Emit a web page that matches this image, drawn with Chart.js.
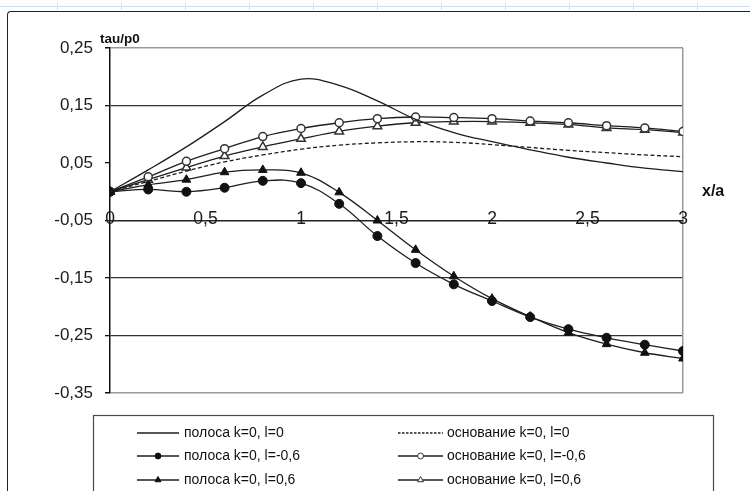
<!DOCTYPE html>
<html>
<head>
<meta charset="utf-8">
<script src="https://cdn.jsdelivr.net/npm/chart.js@4/dist/chart.umd.min.js"></script>
<style>
  html, body { margin: 0; padding: 0; background: #fff; }
  #wrap { position: relative; width: 750px; height: 491px; overflow: hidden; }
  #sheet { position: absolute; left: 0; top: 6px; width: 750px; height: 1px; background: #cfdcec; }
  .col { position: absolute; top: 3px; width: 1px; height: 7px; background: #cfdcec; }
  #frame { position: absolute; left: 7px; top: 11px; width: 800px; height: 600px;
           border-top: 1.6px solid #222; border-left: 1.6px solid #222; border-top-left-radius: 4px; }
  canvas { position: absolute; left: 0; top: 0; }
</style>
</head>
<body>
<div id="wrap">
  <div id="sheet"></div>
  <div id="frame"></div>
  <canvas id="c" width="750" height="491"></canvas>
</div>
<script>
// ---- data ----
const xValues = [0, 0.2, 0.4, 0.6, 0.8, 1.0, 1.2, 1.4, 1.6, 1.8, 2.0, 2.2, 2.4, 2.6, 2.8, 3.0];
const polosa_l0   = [0, 0.038, 0.078, 0.122, 0.168, 0.196, 0.185, 0.158, 0.126, 0.103, 0.087, 0.073, 0.060, 0.050, 0.041, 0.035];
const osnov_l0    = [0, 0.018, 0.036, 0.052, 0.064, 0.074, 0.081, 0.085, 0.087, 0.086, 0.082, 0.077, 0.072, 0.068, 0.064, 0.061];
const polosa_lm06 = [0, 0.004, 0.000, 0.007, 0.019, 0.015, -0.021, -0.077, -0.124, -0.161, -0.190, -0.218, -0.239, -0.254, -0.266, -0.277];
const osnov_lm06  = [0, 0.026, 0.053, 0.075, 0.096, 0.110, 0.120, 0.127, 0.130, 0.129, 0.127, 0.123, 0.120, 0.115, 0.111, 0.105];
const polosa_lp06 = [0, 0.012, 0.021, 0.034, 0.038, 0.033, -0.001, -0.050, -0.101, -0.147, -0.186, -0.217, -0.245, -0.265, -0.280, -0.290];
const osnov_lp06  = [0, 0.021, 0.042, 0.062, 0.078, 0.092, 0.105, 0.114, 0.120, 0.122, 0.122, 0.120, 0.117, 0.111, 0.108, 0.103];
const seriesLabels = ['полоса k=0, l=0', 'основание k=0, l=0', 'полоса k=0, l=-0,6',
                      'основание k=0, l=-0,6', 'полоса k=0, l=0,6', 'основание k=0, l=0,6'];
const yTickValues = [-0.35, -0.25, -0.15, -0.05, 0.05, 0.15, 0.25];
const xTickValues = [0, 0.5, 1, 1.5, 2, 2.5, 3];
const yTitle = 'tau/p0';
const xTitle = 'x/a';

// spreadsheet column marks (decoration)
for (let k = 0; k < 12; k++) {
  const d = document.createElement('div');
  d.className = 'col'; d.style.left = (57 + 64 * k) + 'px';
  document.getElementById('wrap').appendChild(d);
}

const pts = arr => xValues.map((x, i) => ({ x: x, y: arr[i] }));
const LINE = '#1e1e1e';
const fmt = v => String(Math.round(v * 100) / 100).replace('.', ',');

const datasets = [
  { label: seriesLabels[0], data: pts(polosa_l0), borderColor: LINE, borderWidth: 1.3, pointRadius: 0 },
  { label: seriesLabels[1], data: pts(osnov_l0), borderColor: LINE, borderWidth: 1.3, borderDash: [4, 2.5], pointRadius: 0 },
  { label: seriesLabels[2], data: pts(polosa_lm06), borderColor: LINE, borderWidth: 1.3,
    pointStyle: 'circle', pointRadius: 4.5, pointBackgroundColor: '#111', pointBorderColor: '#111', pointBorderWidth: 1 },
  { label: seriesLabels[3], data: pts(osnov_lm06), borderColor: LINE, borderWidth: 1.3,
    pointStyle: 'circle', pointRadius: 4, pointBackgroundColor: '#fff', pointBorderColor: '#333', pointBorderWidth: 1.5 },
  { label: seriesLabels[4], data: pts(polosa_lp06), borderColor: LINE, borderWidth: 1.3,
    pointStyle: 'triangle', pointRadius: 5, pointBackgroundColor: '#111', pointBorderColor: '#111', pointBorderWidth: 1 },
  { label: seriesLabels[5], data: pts(osnov_lp06), borderColor: LINE, borderWidth: 1.3,
    pointStyle: 'triangle', pointRadius: 5, pointBackgroundColor: '#fff', pointBorderColor: '#333', pointBorderWidth: 1.5 }
];
datasets.forEach(d => { d.tension = 0.4; d.fill = false; });

const decor = {
  id: 'decor',
  afterDraw(chart) {
    const ctx = chart.ctx;
    ctx.save();
    // axis titles
    ctx.fillStyle = '#111';
    ctx.textBaseline = 'middle';
    ctx.textAlign = 'left';
    ctx.font = 'bold 13.5px "Liberation Sans", Arial, sans-serif';
    ctx.fillText(yTitle, 100, 39);
    ctx.font = 'bold 16px "Liberation Sans", Arial, sans-serif';
    ctx.fillText(xTitle, 702, 192);

    // legend box
    ctx.strokeStyle = '#4a4a4a';
    ctx.lineWidth = 1.2;
    ctx.strokeRect(93.5, 415.5, 620, 90);
    const rowsY = [433, 456, 480];
    const colX = [[137, 179, 184], [398, 443, 447]];
    ctx.font = '14px "Liberation Sans", Arial, sans-serif';
    chart.data.datasets.forEach((ds, i) => {
      const col = i % 2, row = Math.floor(i / 2);
      const [x1, x2, tx] = colX[col];
      const y = rowsY[row];
      ctx.strokeStyle = ds.borderColor;
      ctx.lineWidth = ds.borderWidth;
      ctx.setLineDash(ds.borderDash ? [2.5, 1.5] : []);
      ctx.beginPath(); ctx.moveTo(x1, y); ctx.lineTo(x2, y); ctx.stroke();
      ctx.setLineDash([]);
      if (ds.pointRadius > 0) {
        ctx.fillStyle = ds.pointBackgroundColor;
        ctx.strokeStyle = ds.pointBorderColor;
        ctx.lineWidth = 1;
        Chart.helpers.drawPoint(ctx, { pointStyle: ds.pointStyle, radius: ds.pointStyle === 'triangle' ? 3.5 : 3, rotation: 0, borderWidth: 1 }, (x1 + x2) / 2, y);
      }
      ctx.fillStyle = '#111';
      ctx.textAlign = 'left';
      ctx.fillText(ds.label, tx, y);
    });
    ctx.restore();
  }
};

new Chart(document.getElementById('c'), {
  type: 'line',
  data: { datasets: datasets },
  plugins: [decor],
  options: {
    responsive: false,
    animation: false,
    events: [],
    layout: { padding: { left: 0, right: 67, top: 48, bottom: 98 } },
    plugins: { legend: { display: false }, tooltip: { enabled: false } },
    scales: {
      y: {
        type: 'linear', min: -0.35, max: 0.25,
        afterFit(s) { s.width = 110; },
        afterBuildTicks(s) { s.ticks = yTickValues.map(v => ({ value: v })); },
        ticks: { callback: v => fmt(v), color: '#1a1a1a', padding: 12,
                 font: { family: '"Liberation Sans", Arial, sans-serif', size: 17 } },
        border: { display: true, color: '#111', width: 1.5 },
        grid: {
          drawTicks: true, tickLength: 5, tickColor: '#111',
          color: c => {
            const v = Math.round(c.tick.value * 100);
            if (v === 25 || v === -35) return '#9a9a9a';
            if (v === 15 || v === -15 || v === -25) return '#333';
            return 'rgba(0,0,0,0)';
          },
          lineWidth: c => {
            const v = Math.round(c.tick.value * 100);
            return (v === 25 || v === -35) ? 1.5 : 1.3;
          }
        }
      },
      x: {
        type: 'linear', min: 0, max: 3,
        position: { y: -0.05 },
        afterFit(s) { s.height = 0; },
        afterBuildTicks(s) { s.ticks = xTickValues.map(v => ({ value: v })); },
        ticks: { callback: v => fmt(v), color: '#1a1a1a', padding: -12, maxRotation: 0,
                 font: { family: '"Liberation Sans", Arial, sans-serif', size: 17.5 } },
        border: { display: true, color: '#222', width: 1.6 },
        grid: {
          drawTicks: false,
          color: c => (c.tick && c.tick.value === 3) ? '#9a9a9a' : 'rgba(0,0,0,0)',
          lineWidth: 1.5
        }
      }
    }
  }
});
</script>
</body>
</html>
